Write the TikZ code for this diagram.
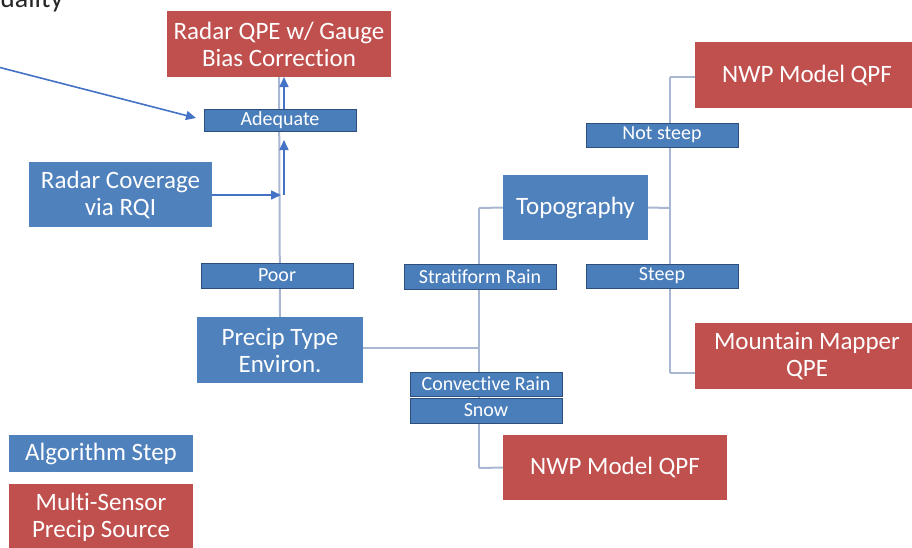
\documentclass[tikz,border=0pt]{standalone}
\usepackage{fontspec}
\setmainfont{Carlito}[Ligatures=NoCommon]
\usetikzlibrary{arrows.meta,backgrounds,calc}
\definecolor{boxred}{HTML}{C0504D}
\definecolor{boxblue}{HTML}{4F81BD}
\definecolor{labblue}{HTML}{4A7EBB}
\definecolor{labedge}{HTML}{2E4F7C}
\definecolor{linkgray}{HTML}{A9B7D3}
\definecolor{arrblue}{HTML}{4472C4}
\begin{document}
\begin{tikzpicture}[x=1pt,y=-1pt,
  bigblue/.style={fill=boxblue, text=white, inner sep=0pt, align=center,
    font=\fontsize{25}{27}\selectfont},
  bigred/.style={fill=boxred, text=white, inner sep=0pt, align=center,
    font=\fontsize{25}{27}\selectfont},
  labbox/.style={fill=labblue, draw=labedge, line width=1pt, text=white,
    inner sep=0pt, minimum width=152pt, align=center,
    font=\fontsize{20}{21}\selectfont},
  link/.style={draw=linkgray, line width=2pt},
  arr/.style={draw=arrblue, line width=1.6pt, -{Triangle[length=10pt,width=9pt]}}]
\useasboundingbox (0,0) rectangle (912,547);
\clip (0,0) rectangle (912,547);

% text cut by top edge
\node[anchor=base west, inner sep=0pt, text=black!85, font=\fontsize{28}{30}\selectfont] (qual) at (0,7) {uality};

% main boxes
\node[bigred, minimum width=224pt, minimum height=66pt] (qpe) at (279,44) {Radar QPE w/ Gauge\\Bias Correction};
\node[labbox, minimum height=22pt] (adeq) at (280,120) {Adequate};
\node[bigblue, minimum width=183pt, minimum height=65pt] (rqi) at (120.5,194.5) {Radar Coverage\\via RQI};
\node[labbox, minimum height=25pt] (poor) at (277,275.5) {Poor};
\node[bigblue, minimum width=166pt, minimum height=66pt] (ptype) at (280,350) {Precip Type\\Environ.};
\node[bigblue, minimum width=145pt, minimum height=65pt] (topo) at (575.5,207.5) {Topography};
\node[labbox, minimum height=25pt] (strat) at (480,276.5) {Stratiform Rain};
\node[labbox, minimum height=24pt] (conv) at (486,384) {Convective Rain};
\node[labbox, minimum height=25pt] (snow) at (486,410.5) {Snow};
\node[bigred, minimum width=224pt, minimum height=65pt] (nwpb) at (615,467.5) {NWP Model QPF};
\node[bigred, minimum width=224pt, minimum height=66pt] (nwpt) at (807,75) {NWP Model QPF};
\node[labbox, minimum height=24pt] (notsteep) at (662,135) {Not steep};
\node[labbox, minimum height=24pt] (steep) at (662,276) {Steep};
\node[bigred, minimum width=224pt, minimum height=66pt] (mm) at (807,356) {Mountain Mapper\\QPE};

% legend
\node[bigblue, minimum width=184pt, minimum height=37pt] (legstep) at (101,453.5) {Algorithm Step};
\node[bigred, minimum width=184pt, minimum height=66pt] (legsrc) at (101,517) {Multi-Sensor\\Precip Source};

% coordinates
\coordinate (busA) at (479,348);
\coordinate (busAtop) at (479,208);
\coordinate (busAbot) at (479,468);
\coordinate (busB) at (670,208);
\coordinate (busBtop) at (670,77);
\coordinate (busBbot) at (670,373);
\coordinate (mmin) at (695,373);
\coordinate (nwptin) at (695,77);
\coordinate (rqijoin) at (281,195);
\coordinate (upstart) at (284,195);
\coordinate (uptip) at (284,140);
\coordinate (adtop) at (284,109);
\coordinate (qpebot) at (284,77);
\coordinate (farleft) at (-2,67);
\coordinate (lefttip) at (196,118);

\begin{scope}[on background layer]
  \draw[link] (ptype.north) -- (qpe.south);
  \draw[link] (ptype.east |- busA) -- (busA);
  \draw[link] (busAtop) -- (busAbot);
  \draw[link] (busAtop) -- (topo.west);
  \draw[link] (busAbot) -- (nwpb.west);
  \draw[link] (topo.east) -- (busB);
  \draw[link] (busBtop) -- (busBbot);
  \draw[link] (busBtop) -- (nwptin);
  \draw[link] (busBbot) -- (mmin);
\end{scope}

\draw[arr] (rqi.east |- rqijoin) -- (rqijoin);
\draw[arr] (upstart) -- (uptip);
\draw[arr] (adtop) -- (qpebot);
\draw[arr] (farleft) -- (lefttip);
\end{tikzpicture}
\end{document}
